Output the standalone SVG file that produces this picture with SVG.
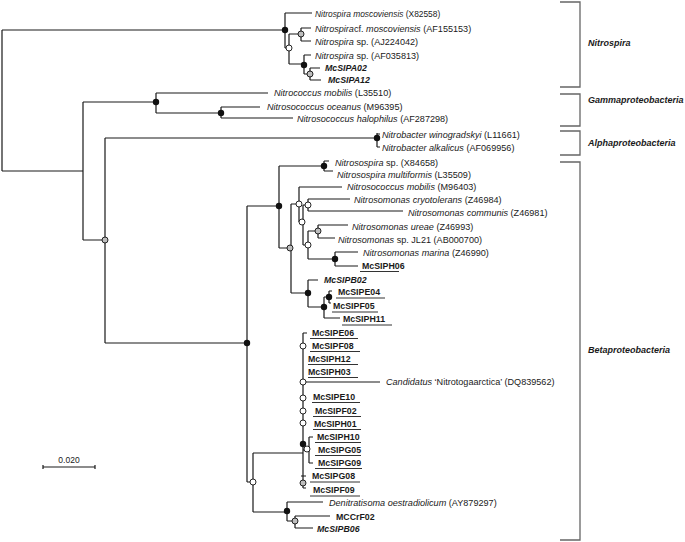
<svg xmlns="http://www.w3.org/2000/svg" width="685" height="542" viewBox="0 0 685 542">
<style>
text{font-family:"Liberation Sans",Arial,sans-serif;fill:#1a1a1a}
.sp{font-size:9.1px;font-style:italic}
.sp1{font-size:8.4px}
.n{font-style:normal}
.b{font-size:8.8px;font-weight:bold}
.bi{font-size:8.8px;font-weight:bold;font-style:italic}
.cl{font-size:9px;font-weight:bold;font-style:italic}
.sc{font-size:8.5px}
.br{fill:none;stroke:#1a1a1a;stroke-width:1.2}
.ul{stroke:#333;stroke-width:1}
.bk{stroke:#666;stroke-width:1.3;fill:none}
.dk{fill:#111}
.wh{fill:#fff;stroke:#111;stroke-width:0.9}
.gr{fill:#bdbdbd;stroke:#111;stroke-width:0.9}
</style>
<g id="connectors">
<path class="br" d="M2,30V171M2,30H285M2,171H83M83,102V240M83,102H156M83,240H105
M156,93V113M156,93H268M156,113H221M221,107V118M221,107H260M221,118H293
M105,138V343M105,138H377M377,133V147M377,134H380M377,147H380M105,343H247
M247,206V482M247,206H279M247,482H253
M279,166V248M279,166H324M324,161V171M324,161H329M324,171H333
M279,248H291M291,204V293M291,204H299M299,187V222M299,187H342M299,222H303
M303,205V245M303,205H308M308,199V211M308,199H350M308,211H403M303,245H308
M308,231V259M308,231H318M318,225V238M318,225H348M318,238H335M308,259H335
M335,252V266M335,252H358M335,266H358
M291,293H308M308,280V307M308,280H318M308,307H324M324,297V318M324,297H329M324,318H340
M329,291V303M329,291H332M329,303H331
M253,453V512M253,453H303M303,333V488M303,333H307M303,488H306M303,382H380
M303,450H309M309,437V463M309,437H313M309,463H313M301,476H306
M253,512H287M287,502V521M287,502H323M287,521H295M295,516V528M295,516H330M295,528H313
M285,13V48M285,13H312M285,48H289M289,34V64M289,34H301M301,28V41M301,28H311M301,41H311
M289,64H304M304,55V74M304,55H311M304,74H310M310,68V80M310,68H320M310,80H321"/>
</g>
<g id="clade-brackets">
<g id="clade-nitrospira"><path class="bk" d="M560,2H580V87H560"/><text class="cl" x="588" y="46">Nitrospira</text></g>
<g id="clade-gamma"><path class="bk" d="M560,94H580V126H560"/><text class="cl" x="588" y="103">Gammaproteobacteria</text></g>
<g id="clade-alpha"><path class="bk" d="M560,131H580V155H560"/><text class="cl" x="588" y="146">Alphaproteobacteria</text></g>
<g id="clade-beta"><path class="bk" d="M560,162H580V540H560"/><text class="cl" x="588" y="353">Betaproteobacteria</text></g>
</g>
<g id="internal-nodes">
<g id="n-nitrospira"><circle class="dk" cx="285" cy="30" r="3.2"/></g>
<g id="n-B"><circle class="wh" cx="289" cy="48" r="3"/></g>
<g id="n-C"><circle class="gr" cx="301" cy="34" r="3"/></g>
<g id="n-D"><circle class="dk" cx="304" cy="65" r="3.2"/></g>
<g id="n-E"><circle class="gr" cx="310" cy="74" r="3"/></g>
<g id="n-gamma"><circle class="dk" cx="156" cy="102" r="3.2"/></g>
<g id="n-nitrosococcus"><circle class="dk" cx="221" cy="113" r="3.2"/></g>
<g id="n-nitrobacter"><circle class="dk" cx="377" cy="138" r="3.2"/></g>
<g id="n-alphabeta"><circle class="gr" cx="105" cy="240" r="3"/></g>
<g id="n-beta"><circle class="dk" cx="247" cy="343" r="3.2"/></g>
<g id="n-betaup"><circle class="dk" cx="279" cy="206" r="3.2"/></g>
<g id="n-nitrosospira"><circle class="dk" cx="324" cy="166" r="3.2"/></g>
<g id="n-N1"><circle class="gr" cx="290" cy="248" r="3"/></g>
<g id="n-N2"><circle class="wh" cx="299" cy="204" r="3"/></g>
<g id="n-N4"><circle class="wh" cx="308" cy="205" r="3"/></g>
<g id="n-N3"><circle class="wh" cx="302" cy="222" r="3"/></g>
<g id="n-N6"><circle class="gr" cx="318" cy="231" r="3"/></g>
<g id="n-N5"><circle class="wh" cx="308" cy="245" r="3"/></g>
<g id="n-N7"><circle class="dk" cx="335" cy="259" r="3.2"/></g>
<g id="n-N8"><circle class="dk" cx="308" cy="293" r="3.2"/></g>
<g id="n-N10"><circle class="dk" cx="329" cy="297" r="3.2"/></g>
<g id="n-N9"><circle class="dk" cx="324" cy="307" r="3.2"/></g>
<g id="n-N11"><circle class="wh" cx="253" cy="482" r="3"/></g>
<g id="n-c1"><circle class="wh" cx="303" cy="346" r="3"/></g>
<g id="n-c2"><circle class="wh" cx="303" cy="382" r="3"/></g>
<g id="n-c3"><circle class="wh" cx="303" cy="398" r="3"/></g>
<g id="n-c4"><circle class="wh" cx="303" cy="411" r="3"/></g>
<g id="n-c5"><circle class="wh" cx="303" cy="423" r="3"/></g>
<g id="n-c6"><circle class="dk" cx="303" cy="444" r="3.2"/></g>
<g id="n-c7"><circle class="wh" cx="307" cy="449" r="3"/></g>
<g id="n-c8"><circle class="gr" cx="303" cy="483" r="3"/></g>
<g id="n-N13"><circle class="dk" cx="287" cy="511" r="3.2"/></g>
<g id="n-N14"><circle class="gr" cx="295" cy="521" r="3"/></g>
</g>
<g id="leaves">
<g id="l1"><text class="sp sp1" x="315" y="17">Nitrospira moscoviensis <tspan class="n">(X82558)</tspan></text></g>
<g id="l2"><text class="sp" x="315" y="32">Nitrospira<tspan class="n">cf.</tspan> moscoviensis <tspan class="n">(AF155153)</tspan></text></g>
<g id="l3"><text class="sp" x="315" y="45">Nitrospira<tspan class="n"> sp. (AJ224042)</tspan></text></g>
<g id="l4"><text class="sp" x="315" y="59">Nitrospira<tspan class="n"> sp. (AF035813)</tspan></text></g>
<g id="l5"><text class="bi" x="325" y="71">McSIPA02</text></g>
<g id="l6"><text class="bi" x="328" y="83">McSIPA12</text></g>
<g id="l7"><text class="sp" x="274" y="96">Nitrococcus mobilis <tspan class="n">(L35510)</tspan></text></g>
<g id="l8"><text class="sp" x="267" y="110">Nitrosococcus oceanus <tspan class="n">(M96395)</tspan></text></g>
<g id="l9"><text class="sp" x="297" y="122">Nitrosococcus halophilus <tspan class="n">(AF287298)</tspan></text></g>
<g id="l10"><text class="sp" x="382" y="138">Nitrobacter winogradskyi <tspan class="n">(L11661)</tspan></text></g>
<g id="l11"><text class="sp" x="382" y="151">Nitrobacter alkalicus <tspan class="n">(AF069956)</tspan></text></g>
<g id="l12"><text class="sp" x="335" y="166">Nitrosospira<tspan class="n"> sp. (X84658)</tspan></text></g>
<g id="l13"><text class="sp" x="337" y="178">Nitrosospira multiformis <tspan class="n">(L35509)</tspan></text></g>
<g id="l14"><text class="sp" x="347" y="190">Nitrosococcus mobilis <tspan class="n">(M96403)</tspan></text></g>
<g id="l15"><text class="sp" x="354" y="203">Nitrosomonas cryotolerans <tspan class="n">(Z46984)</tspan></text></g>
<g id="l16"><text class="sp" x="408" y="216">Nitrosomonas communis <tspan class="n">(Z46981)</tspan></text></g>
<g id="l17"><text class="sp" x="352" y="230">Nitrosomonas ureae <tspan class="n">(Z46993)</tspan></text></g>
<g id="l18"><text class="sp" x="338" y="243">Nitrosomonas<tspan class="n"> sp. JL21 (AB000700)</tspan></text></g>
<g id="l19"><text class="sp" x="363" y="256">Nitrosomonas marina <tspan class="n">(Z46990)</tspan></text></g>
<g id="l20"><text class="b" x="362" y="269">McSIPH06</text><line class="ul" x1="360" y1="271.5" x2="399" y2="271.5"/></g>
<g id="l21"><text class="bi" x="324" y="283">McSIPB02</text></g>
<g id="l22"><text class="b" x="338" y="295">McSIPE04</text><line class="ul" x1="336" y1="298" x2="385" y2="298"/></g>
<g id="l23"><text class="b" x="333" y="309">McSIPF05</text><line class="ul" x1="332" y1="312" x2="378" y2="312"/></g>
<g id="l24"><text class="b" x="343" y="322">McSIPH11</text><line class="ul" x1="342" y1="325" x2="392" y2="325"/></g>
<g id="l25"><text class="b" x="312" y="336">McSIPE06</text><line class="ul" x1="310" y1="338.5" x2="358" y2="338.5"/></g>
<g id="l26"><text class="b" x="312" y="349">McSIPF08</text><line class="ul" x1="310" y1="351.5" x2="360" y2="351.5"/></g>
<g id="l27"><text class="b" x="308" y="362">McSIPH12</text><line class="ul" x1="308" y1="364.5" x2="358" y2="364.5"/></g>
<g id="l28"><text class="b" x="308" y="375">McSIPH03</text><line class="ul" x1="308" y1="377.5" x2="358" y2="377.5"/></g>
<g id="l29"><text class="sp" x="386" y="385">Candidatus <tspan class="n">‘Nitrotogaarctica’ (DQ839562)</tspan></text></g>
<g id="l30"><text class="b" x="313" y="400">McSIPE10</text><line class="ul" x1="312" y1="402.5" x2="360" y2="402.5"/></g>
<g id="l31"><text class="b" x="315" y="414">McSIPF02</text><line class="ul" x1="313" y1="416.5" x2="361" y2="416.5"/></g>
<g id="l32"><text class="b" x="314" y="427">McSIPH01</text><line class="ul" x1="313" y1="429.5" x2="361" y2="429.5"/></g>
<g id="l33"><text class="b" x="317" y="440">McSIPH10</text><line class="ul" x1="315" y1="442.5" x2="361" y2="442.5"/></g>
<g id="l34"><text class="b" x="318" y="453">McSIPG05</text><line class="ul" x1="315" y1="455.5" x2="361" y2="455.5"/></g>
<g id="l35"><text class="b" x="318" y="466">McSIPG09</text><line class="ul" x1="315" y1="468.5" x2="362" y2="468.5"/></g>
<g id="l36"><text class="b" x="312" y="479">McSIPG08</text><line class="ul" x1="310" y1="482" x2="360" y2="482"/></g>
<g id="l37"><text class="b" x="313" y="493">McSIPF09</text><line class="ul" x1="310" y1="496" x2="360" y2="496"/></g>
<g id="l38"><text class="sp" x="329" y="506">Denitratisoma oestradiolicum <tspan class="n">(AY879297)</tspan></text></g>
<g id="l39"><text class="b" x="336" y="520">MCCrF02</text></g>
<g id="l40"><text class="bi" x="317" y="532">McSIPB06</text></g>
</g>
<g id="scale-bar">
<path class="br" d="M43,467H95M43,465V469M95,465V469"/>
<text class="sc" x="69" y="463" text-anchor="middle">0.020</text>
</g>
</svg>
